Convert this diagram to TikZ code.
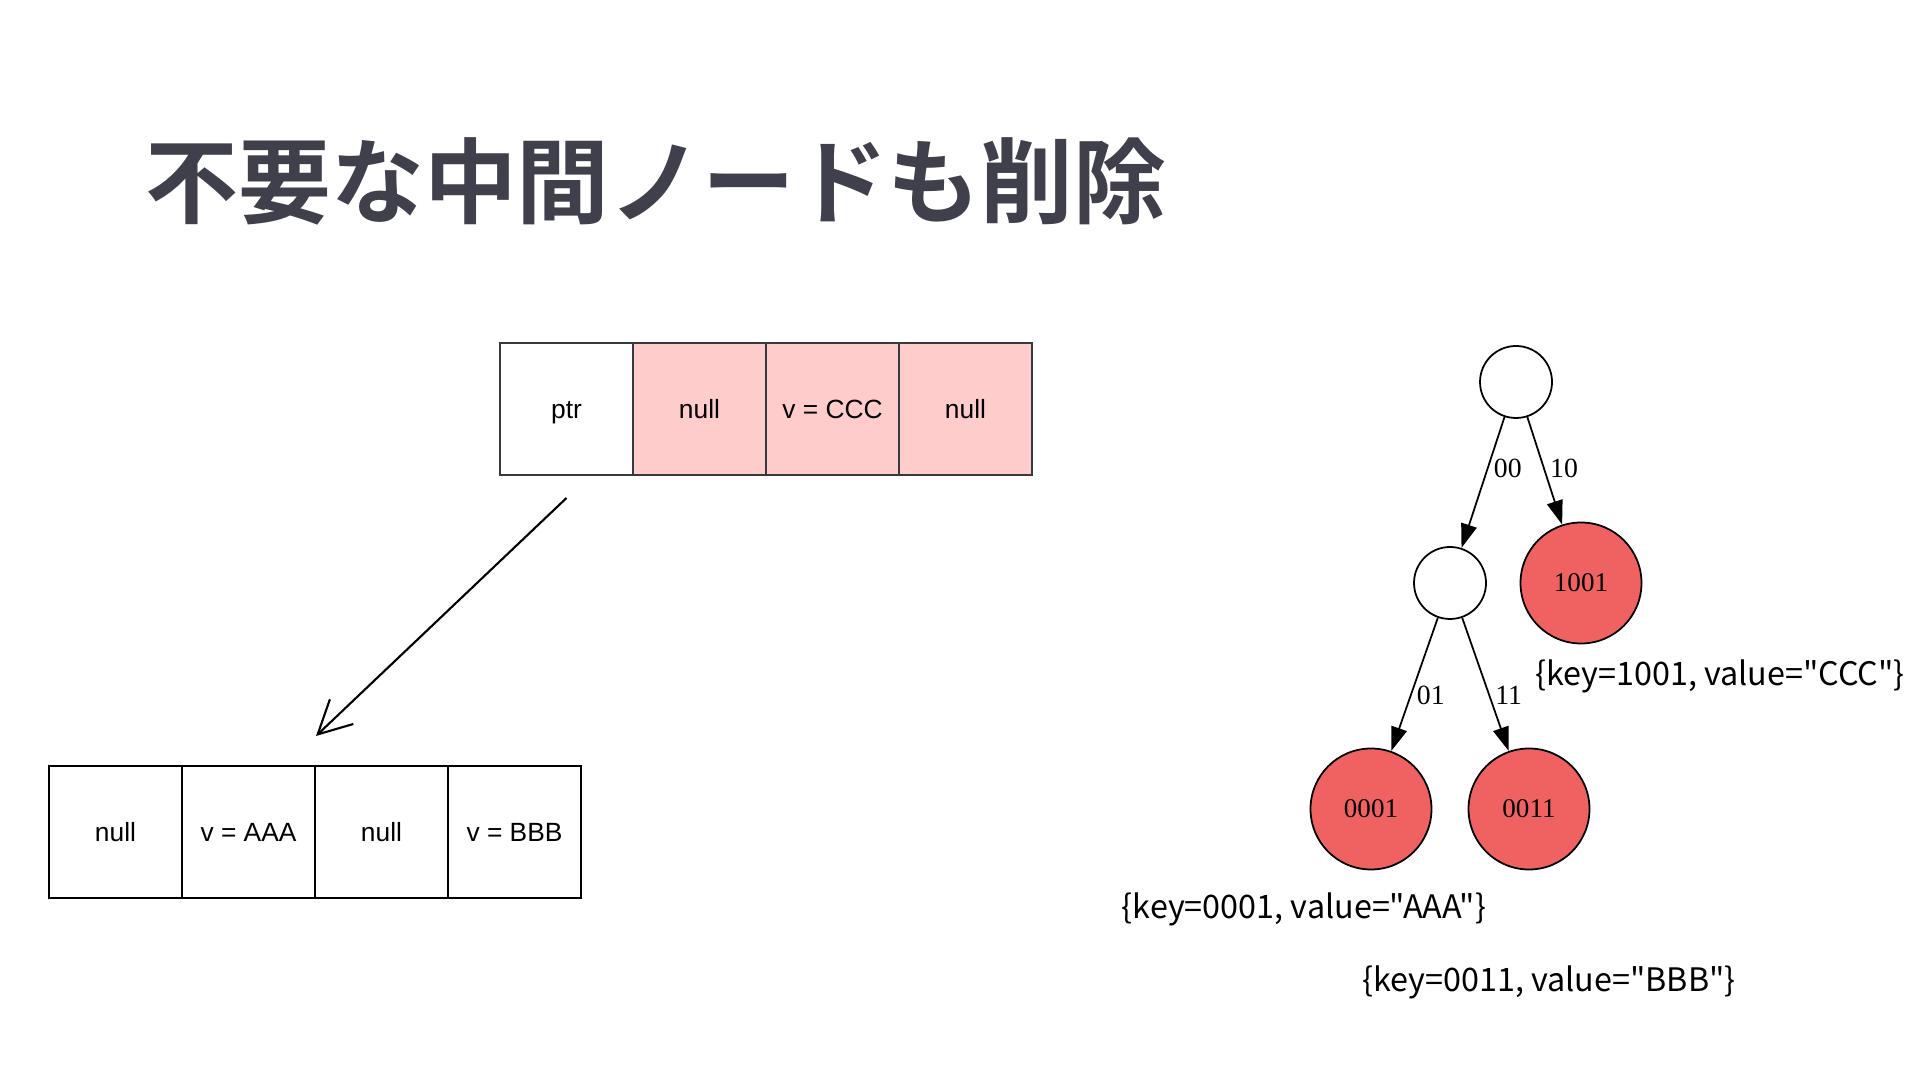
\documentclass[tikz,border=0pt]{standalone}
\usepackage{fontspec}
\setmainfont{Liberation Sans}
\newfontfamily\titolofont{Noto Sans CJK JP}[BoldFont={Noto Sans CJK JP Bold}]
\newfontfamily\notefont{Noto Sans CJK JP}
\newfontfamily\grafofont{Liberation Serif}
\usepackage{xcolor}
\usepackage{tikz}
\usetikzlibrary{positioning}
\usetikzlibrary{calc}
\usetikzlibrary{arrows.meta}

\definecolor{grigiotitolo}{HTML}{40404C}
\definecolor{rosachiaro}{HTML}{FFCCCC}
\definecolor{rossonodo}{HTML}{F06262}
\definecolor{bordoscuro}{HTML}{36393D}

\tikzset{
    cella/.style={draw, minimum width=1.33cm, minimum height=1.32cm, inner sep=0pt,
                  outer sep=0pt, line width=0.6pt, text height=0.72em, text depth=0.2em,
                  font=\fontsize{7.5}{9}\selectfont},
    nodovuoto/.style={circle, draw, fill=white, minimum size=0.72cm, inner sep=0pt, line width=0.5pt},
    nodofoglia/.style={circle, draw, fill=rossonodo, minimum size=1.21cm, inner sep=0pt,
                       line width=0.5pt, font=\grafofont\fontsize{7.7}{9}\selectfont},
    ramo/.style={-{Triangle[length=0.24cm,width=0.16cm]}, line width=0.5pt},
    etichetta/.style={anchor=west, inner sep=1.5pt, font=\grafofont\fontsize{7.9}{9}\selectfont},
    nota/.style={inner sep=0pt, font=\notefont\fontsize{9.2}{11}\selectfont}
}

\begin{document}
\begin{tikzpicture}

    \fill[white] (0,0) rectangle (19.2,10.8);
    \useasboundingbox (0,0) rectangle (19.2,10.8);

        % Titolo
    \node[anchor=west, inner sep=0pt, text=grigiotitolo,
          font=\titolofont\bfseries\fontsize{26.4}{28}\selectfont] (titolo) at (1.45,8.99) {不要な中間ノードも削除};

        % Array in alto
    \node[cella, draw=bordoscuro] (ptr) at (5.665,6.71) {ptr};
    \node[cella, draw=bordoscuro, fill=rosachiaro, right=0pt of ptr] (sopraA) {null};
    \node[cella, draw=bordoscuro, fill=rosachiaro, right=0pt of sopraA] (ccc) {v = CCC};
    \node[cella, draw=bordoscuro, fill=rosachiaro, right=0pt of ccc] (sopraB) {null};

        % Array in basso
    \node[cella] (sottoA) at (1.155,2.48) {null};
    \node[cella, right=0pt of sottoA] (aaa) {v = AAA};
    \node[cella, right=0pt of aaa] (sottoB) {null};
    \node[cella, right=0pt of sottoB] (bbb) {v = BBB};

        % Freccia
    \coordinate[below=0.23cm of ptr] (coda);
    \coordinate (punta) at ($(aaa.north east)+(0.01,0.30)$);
    \draw[-{Straight Barb[length=0.33cm,width=0.34cm]}, line width=0.6pt] (coda) -- (punta);

        % Albero
    \node[nodovuoto] (radice) at (15.16,6.98) {};
    \node[nodovuoto] (interno) at (14.50,4.97) {};
    \node[nodofoglia] (f1001) at (15.81,4.97) {1001};
    \node[nodofoglia] (f0001) at (13.71,2.71) {0001};
    \node[nodofoglia] (f0011) at (15.29,2.71) {0011};

    \draw[ramo] (radice) -- node[etichetta, pos=0.39] (e00) {00} (interno);
    \draw[ramo] (radice) -- node[etichetta, pos=0.48] (e10) {10} (f1001);
    \draw[ramo] (interno) -- node[etichetta, pos=0.58] (e01) {01} (f0001);
    \draw[ramo] (interno) -- node[etichetta, pos=0.58] (e11) {11} (f0011);

        % Note
    \node[nota] (nota1001) at (17.20,4.04) {\{key=1001, value="CCC"\}};
    \node[nota] (nota0001) at (13.04,1.71) {\{key=0001, value="AAA"\}};
    \node[nota] (nota0011) at (15.49,0.98) {\{key=0011, value="BBB"\}};

\end{tikzpicture}
\end{document}
